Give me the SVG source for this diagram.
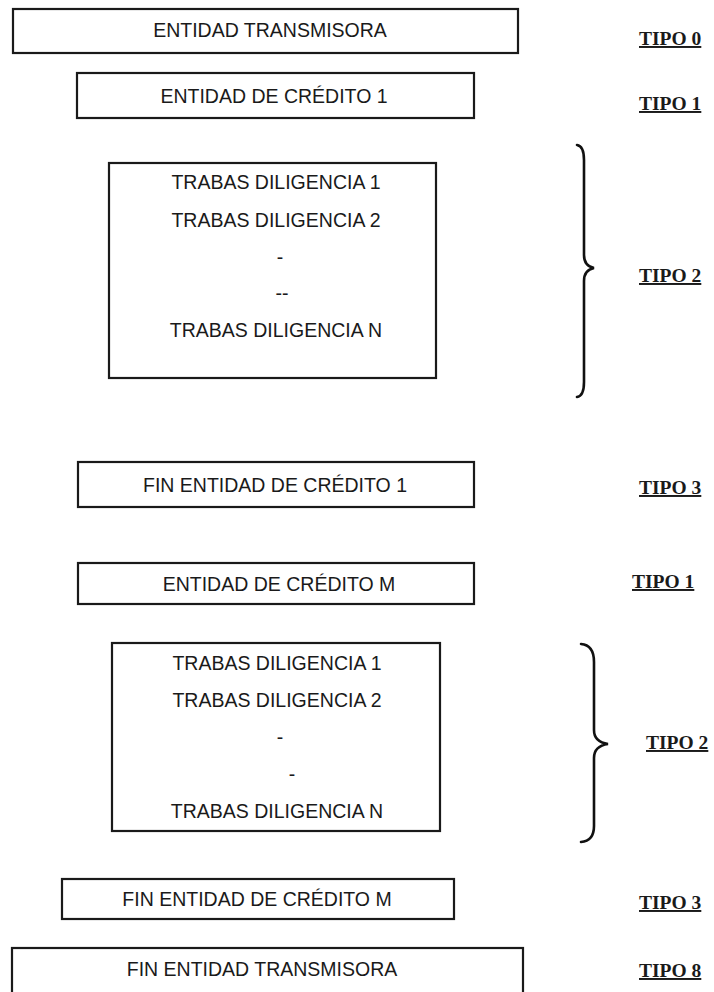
<svg xmlns="http://www.w3.org/2000/svg" width="714" height="992" viewBox="0 0 714 992">
<style>
.box{fill:#fff;stroke:#1a1a1a;stroke-width:2.2}
.t{font-family:"Liberation Sans",Arial,sans-serif;font-size:19.5px;fill:#1a1a1a;text-anchor:middle}
.tipo{font-family:"Liberation Serif","Times New Roman",serif;font-size:19.5px;font-weight:bold;fill:#1a1a1a;text-decoration:underline}
.brace{fill:none;stroke:#111;stroke-width:2.6;stroke-linecap:round}
</style>
<rect width="714" height="992" fill="#fff"/>
<g id="n0"><rect class="box" x="13" y="9" width="505" height="44"/><text class="t" x="270" y="37">ENTIDAD TRANSMISORA</text></g>
<g id="n1"><rect class="box" x="77" y="73" width="397" height="45"/><text class="t" x="274" y="103">ENTIDAD DE CRÉDITO 1</text></g>
<g id="n2"><rect class="box" x="109" y="163" width="327" height="215"/>
<text class="t" x="276" y="189">TRABAS DILIGENCIA 1</text>
<text class="t" x="276" y="227">TRABAS DILIGENCIA 2</text>
<text class="t" x="280" y="264">-</text>
<text class="t" x="282" y="300">--</text>
<text class="t" x="276" y="337">TRABAS DILIGENCIA N</text></g>
<g id="n3"><rect class="box" x="78" y="462" width="396" height="45"/><text class="t" x="275" y="492">FIN ENTIDAD DE CRÉDITO 1</text></g>
<g id="n4"><rect class="box" x="78" y="563" width="396" height="41"/><text class="t" x="279" y="591">ENTIDAD DE CRÉDITO M</text></g>
<g id="n5"><rect class="box" x="112" y="643" width="328" height="188"/>
<text class="t" x="277" y="670">TRABAS DILIGENCIA 1</text>
<text class="t" x="277" y="707">TRABAS DILIGENCIA 2</text>
<text class="t" x="280" y="744">-</text>
<text class="t" x="292" y="781">-</text>
<text class="t" x="277" y="818">TRABAS DILIGENCIA N</text></g>
<g id="n6"><rect class="box" x="62" y="879" width="392" height="40"/><text class="t" x="257" y="906">FIN ENTIDAD DE CRÉDITO M</text></g>
<g id="n7"><rect class="box" x="12" y="948" width="511" height="60"/><text class="t" x="262" y="976">FIN ENTIDAD TRANSMISORA</text></g>
<g id="labels">
<text class="tipo" x="639" y="45">TIPO 0</text>
<text class="tipo" x="639" y="110">TIPO 1</text>
<text class="tipo" x="639" y="282">TIPO 2</text>
<text class="tipo" x="639" y="494">TIPO 3</text>
<text class="tipo" x="632" y="588">TIPO 1</text>
<text class="tipo" x="646" y="749">TIPO 2</text>
<text class="tipo" x="639" y="909">TIPO 3</text>
<text class="tipo" x="639" y="977">TIPO 8</text>
</g>
<g id="braces">
<path class="brace" d="M577,145 Q584,146 584,160 L584,255 Q584,266 594,268 Q584,270 584,281 L584,382 Q584,396 577,397"/>
<path class="brace" d="M581,644 Q594,645 594,662 L594,730 Q594,742 608,744 Q594,746 594,758 L594,826 Q594,841 581,842"/>
</g>
</svg>
